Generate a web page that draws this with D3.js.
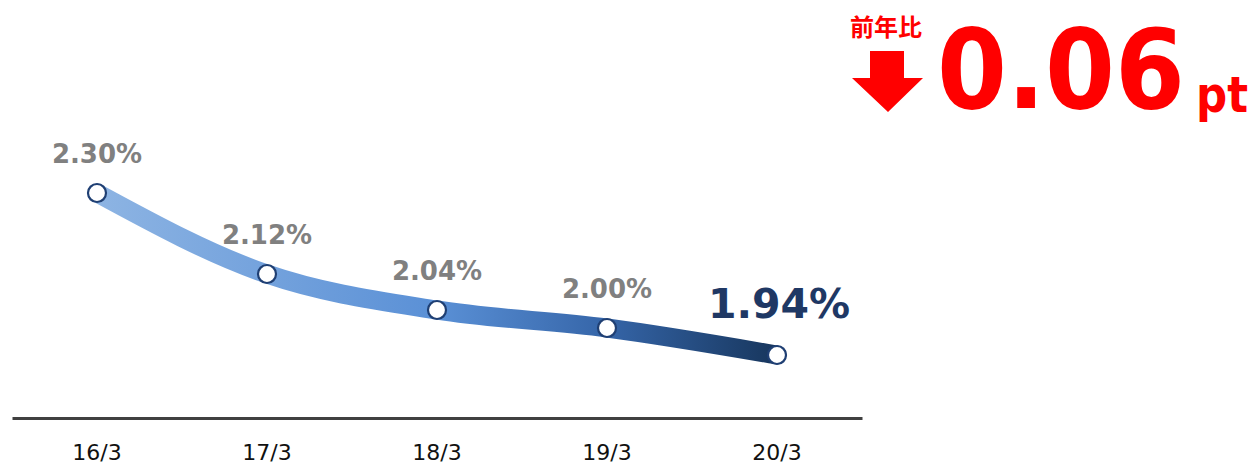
<!DOCTYPE html>
<html>
<head>
<meta charset="utf-8">
<script src="https://cdn.jsdelivr.net/npm/d3@7"></script>
<style>
  body { margin: 0; background: #fff; }
  svg { display: block; }
  .axis .domain { stroke: #404040; stroke-width: 3; }
  .axis text { font-family: "DejaVu Sans", sans-serif; font-size: 22px; fill: #111; }
  .label { font-family: "DejaVu Sans", sans-serif; font-weight: bold; }
  .red { fill: #ff0000; font-weight: bold; }
</style>
</head>
<body>
<svg id="chart" width="1254" height="466"></svg>
<script>
// data
const periods = ["16/3", "17/3", "18/3", "19/3", "20/3"];
const rates = [2.30, 2.12, 2.04, 2.00, 1.94];
const headerLabel = "前年比";
const unitLabel = "pt";

const svg = d3.select("#chart");

const x = d3.scaleBand().domain(periods).range([12, 862]).padding(0);
const cx = d => x(d) + x.bandwidth() / 2;
const y = d3.scaleLinear().domain([1.8, 2.5]).range([418, 103]);

const points = periods.map((p, i) => ({ p: p, v: rates[i] }));

// gradient along the line
const grad = svg.append("defs").append("linearGradient")
    .attr("id", "lineGrad")
    .attr("gradientUnits", "userSpaceOnUse")
    .attr("x1", cx(periods[0])).attr("y1", 0)
    .attr("x2", cx(periods[periods.length - 1])).attr("y2", 0);
grad.append("stop").attr("offset", "0%").attr("stop-color", "#8db4e3");
grad.append("stop").attr("offset", "50%").attr("stop-color", "#5a90d6");
grad.append("stop").attr("offset", "75%").attr("stop-color", "#3565a8");
grad.append("stop").attr("offset", "100%").attr("stop-color", "#17365d");

// axis
const axis = svg.append("g").attr("class", "axis")
    .attr("transform", "translate(0,418)")
    .call(d3.axisBottom(x).tickSize(0).tickSizeOuter(0));
axis.selectAll("text").attr("y", 42).attr("dy", 0);

// thick line
const line = d3.line()
    .x(d => cx(d.p))
    .y(d => y(d.v))
    .curve(d3.curveMonotoneX);

svg.append("path")
    .datum(points)
    .attr("d", line)
    .attr("fill", "none")
    .attr("stroke", "url(#lineGrad)")
    .attr("stroke-width", 19)
    .attr("stroke-linecap", "round");

svg.selectAll(".dot").data(points).enter().append("circle")
    .attr("class", "dot")
    .attr("cx", d => cx(d.p))
    .attr("cy", d => y(d.v))
    .attr("r", 9)
    .attr("fill", "#fff")
    .attr("stroke", "#1f3f73")
    .attr("stroke-width", 2.2);

// value labels
const last = points.length - 1;
svg.selectAll(".label").data(points).enter().append("text")
    .attr("class", "label")
    .attr("x", (d, i) => cx(d.p) + (i === last ? 2 : 0))
    .attr("y", (d, i) => y(d.v) - (i === last ? 37 : 30))
    .attr("text-anchor", "middle")
    .attr("font-size", (d, i) => i === last ? 41 : 26)
    .attr("fill", (d, i) => i === last ? "#1f3864" : "#808080")
    .text(d => d.v.toFixed(2) + "%");

// year-on-year change
const diff = rates[last - 1] - rates[last];

svg.append("text")
    .attr("class", "red")
    .attr("x", 886).attr("y", 36)
    .attr("text-anchor", "middle")
    .attr("font-family", "'Noto Sans CJK JP', sans-serif")
    .attr("font-size", 24)
    .text(headerLabel);

svg.append("path")
    .attr("d", "M870,51 L904,51 L904,78 L923,78 L888,112 L852,78 L870,78 Z")
    .attr("fill", "#ff0000");

svg.append("text")
    .attr("class", "red")
    .attr("x", 937).attr("y", 108)
    .attr("font-family", "'DejaVu Sans', sans-serif")
    .attr("font-size", 110)
    .attr("textLength", 248)
    .attr("lengthAdjust", "spacingAndGlyphs")
    .text(diff.toFixed(2));

svg.append("text")
    .attr("class", "red")
    .attr("x", 1196).attr("y", 112)
    .attr("font-family", "'DejaVu Sans', sans-serif")
    .attr("font-size", 50)
    .attr("textLength", 52)
    .attr("lengthAdjust", "spacingAndGlyphs")
    .text(unitLabel);
</script>
</body>
</html>
